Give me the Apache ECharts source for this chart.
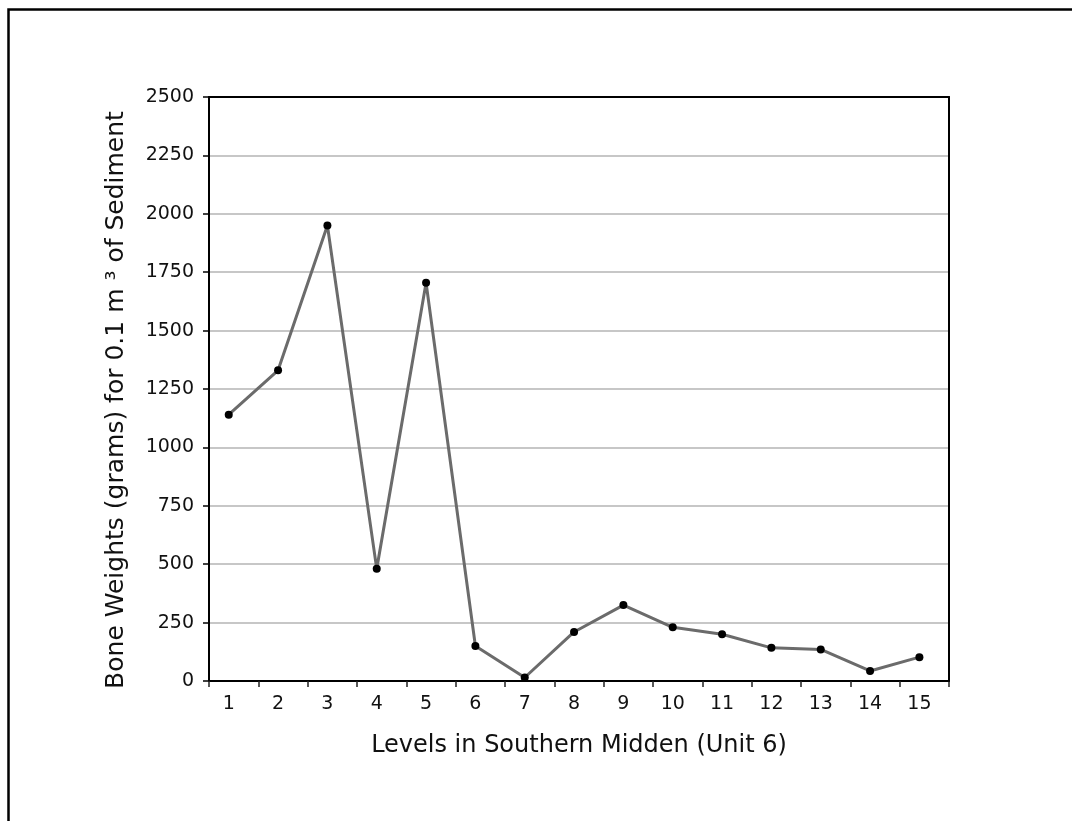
<!DOCTYPE html>
<html>
<head>
<meta charset="utf-8">
<script src="https://cdn.jsdelivr.net/npm/echarts@6/dist/echarts.min.js"></script>
<style>
  html, body { margin: 0; padding: 0; background: #fff; }
  #chart { width: 1072px; height: 821px; }
</style>
</head>
<body>
<div id="chart"></div>
<script>
// Excavation levels and bone weight per 0.1 m³ of sediment
const levels = [1, 2, 3, 4, 5, 6, 7, 8, 9, 10, 11, 12, 13, 14, 15];
const boneWeights = [1140, 1330, 1950, 480, 1705, 150, 15, 210, 325, 230, 200, 142, 135, 43, 102];
const yTicks = [0, 250, 500, 750, 1000, 1250, 1500, 1750, 2000, 2250, 2500];

const xAxisTitle = 'Levels in Southern Midden (Unit 6)';
const yAxisTitle = 'Bone Weights (grams) for 0.1 m ³ of Sediment';

// tick marks sit between levels, labels sit on the levels
const xMin = levels[0] - 0.4;
const xMax = levels[levels.length - 1] + 0.6;
const tickValues = [xMin].concat(levels.map(l => l + 0.6));

const font = 'DejaVu Sans';
const chart = echarts.init(document.getElementById('chart'));

// plain axis line used to close the plot box on the top and right
const frameLine = { show: true, onZero: false, lineStyle: { color: '#000', width: 2 } };

chart.setOption({
  animation: false,
  backgroundColor: '#ffffff',
  graphic: [{
    type: 'rect',
    shape: { x: 8.5, y: 9.5, width: 2000, height: 2000 },
    style: { fill: 'none', stroke: '#000', lineWidth: 2.5 },
    silent: true
  }],
  grid: {
    left: 209, right: 123, top: 97, bottom: 140,
    containLabel: false
  },
  xAxis: [{
    type: 'value',
    min: xMin,
    max: xMax,
    name: xAxisTitle,
    nameLocation: 'middle',
    nameGap: 53,
    nameTextStyle: { fontFamily: font, fontSize: 24, color: '#111' },
    axisLine: { show: true, onZero: false, lineStyle: { color: '#000', width: 2 } },
    axisTick: { show: true, length: 6, customValues: tickValues, lineStyle: { color: '#222', width: 1.5 } },
    axisLabel: { customValues: levels, fontFamily: font, fontSize: 19, color: '#111', margin: 14 },
    splitLine: { show: false },
    z: 5
  }, {
    type: 'value',
    position: 'top',
    min: xMin,
    max: xMax,
    axisLine: frameLine,
    axisTick: { show: false },
    axisLabel: { show: false },
    splitLine: { show: false },
    z: 10
  }],
  yAxis: [{
    type: 'value',
    min: yTicks[0],
    max: yTicks[yTicks.length - 1],
    interval: 250,
    name: yAxisTitle,
    nameLocation: 'middle',
    nameGap: 80,
    nameRotate: 90,
    nameTextStyle: { fontFamily: font, fontSize: 25, color: '#111', padding: [0, 22, 0, 0] },
    axisLine: { show: true, onZero: false, lineStyle: { color: '#000', width: 2 } },
    axisTick: { show: true, length: 6, lineStyle: { color: '#000', width: 1.5 } },
    axisLabel: { fontFamily: font, fontSize: 19, color: '#111', margin: 15, formatter: v => String(v) },
    splitLine: { show: true, lineStyle: { color: '#b5b5b5', width: 1.5 } },
    z: 2
  }, {
    type: 'value',
    position: 'right',
    min: yTicks[0],
    max: yTicks[yTicks.length - 1],
    interval: 250,
    axisLine: frameLine,
    axisTick: { show: false },
    axisLabel: { show: false },
    splitLine: { show: false },
    z: 10
  }],
  series: [{
    type: 'line',
    data: levels.map((l, i) => [l, boneWeights[i]]),
    symbol: 'circle',
    symbolSize: 8,
    itemStyle: { color: '#000' },
    lineStyle: { color: '#6b6b6b', width: 3 },
    z: 3
  }]
});
</script>
</body>
</html>
